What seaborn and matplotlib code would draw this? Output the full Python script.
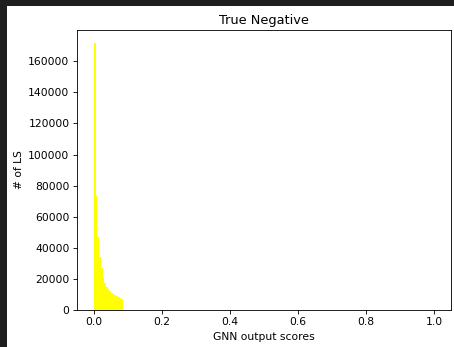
import numpy as np
import pandas as pd
import matplotlib
matplotlib.use("Agg")
import matplotlib.pyplot as plt
import seaborn as sns
from matplotlib.patches import Rectangle

# Histogram data: bin width 0.005 over [0, 1]
bin_left = [0.000, 0.005, 0.010, 0.015, 0.020, 0.025, 0.030, 0.035, 0.040,
            0.045, 0.050, 0.055, 0.060, 0.065, 0.070, 0.075, 0.080]
counts = [171500, 73500, 47000, 34000, 27000, 21000, 17500, 15000, 13500,
          12000, 11000, 10500, 9800, 9200, 8600, 8000, 7000]
n_bins = 200
bin_range = (0.0, 1.0)
title = "True Negative"
xlabel = "GNN output scores"
ylabel = "# of LS"

DPI = 77
W, H = 454, 347
fig = plt.figure(figsize=(W / DPI, H / DPI), dpi=DPI)
fig.patch.set_facecolor("#1e1e1e")
fig.patches.append(Rectangle((7 / W, 0), 1 - 7 / W, 1 - 6 / H,
                             transform=fig.transFigure, facecolor="white",
                             edgecolor="none", zorder=-10))

ax = fig.add_axes([77 / W, (H - 310) / H, (451 - 77) / W, (310 - 30) / H])
df = pd.DataFrame({"score": np.array(bin_left) + 0.0025, "n": counts})
sns.histplot(data=df, x="score", weights="n", bins=n_bins, binrange=bin_range,
             color="yellow", alpha=1, linewidth=0, ax=ax)
ax.set_xlim(-0.05, 1.05)
ax.set_title(title)
ax.set_xlabel(xlabel)
ax.set_ylabel(ylabel)
ax.set_yticks(np.arange(0, 160001, 20000))
ax.set_xticks([0.0, 0.2, 0.4, 0.6, 0.8, 1.0])

fig.savefig("out.png", dpi=DPI, facecolor=fig.get_facecolor())
